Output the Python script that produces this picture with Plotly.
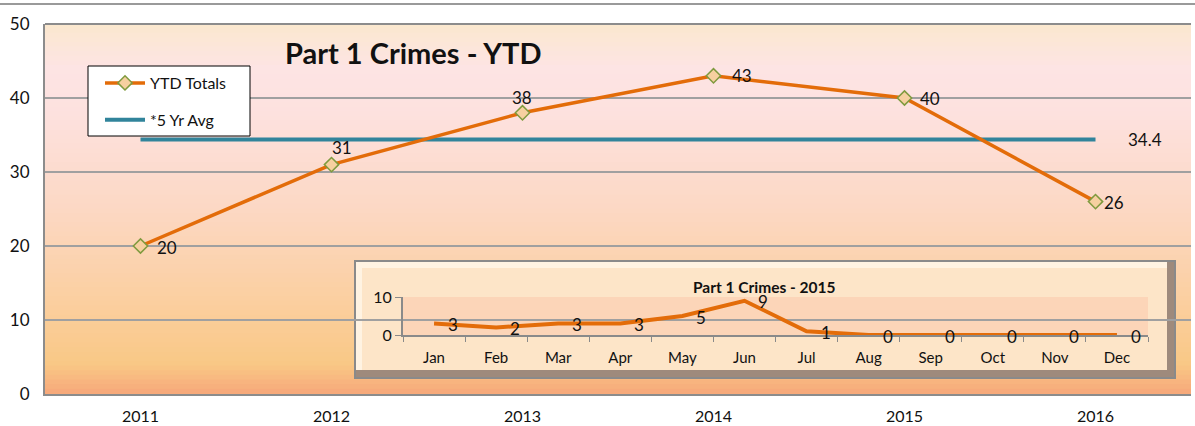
import plotly.graph_objects as go

years = ["2011", "2012", "2013", "2014", "2015", "2016"]
ytd_totals = [20, 31, 38, 43, 40, 26]
five_yr_avg = [34.4, 34.4, 34.4, 34.4, 34.4, 34.4]
avg_label = "34.4"

months = ["Jan", "Feb", "Mar", "Apr", "May", "Jun", "Jul", "Aug", "Sep", "Oct", "Nov", "Dec"]
crimes_2015 = [3, 2, 3, 3, 5, 9, 1, 0, 0, 0, 0, 0]

# label placement (style): pixel offsets of data labels from their points
main_label_dx = [26, 10, -1, 28, 25, 18]
main_label_dy = [-1, 17, 15, 0, 0, -1]

W, H = 1195, 426
L, R, T, B = 45, 1191, 24, 394
FONT = "Lato"
ORANGE = "#E36C09"
TEAL = "#31849B"


def X(px):
    return (px - L) / (R - L)


def Y(py):
    return (B - py) / (B - T)


fig = go.Figure()

stops = [(0.0, (251, 232, 206)), (0.12, (253, 228, 228)), (0.25, (253, 225, 222)),
         (0.5, (252, 216, 196)), (0.75, (251, 207, 160)), (0.92, (249, 200, 134)),
         (1.0, (247, 168, 122))]


def col_at(t):
    for i in range(len(stops) - 1):
        t0, c0 = stops[i]
        t1, c1 = stops[i + 1]
        if t0 <= t <= t1:
            f = (t - t0) / (t1 - t0) if t1 > t0 else 0
            return "rgb(%d,%d,%d)" % tuple(round(a + (b - a) * f) for a, b in zip(c0, c1))
    return "rgb(%d,%d,%d)" % stops[-1][1]


shapes = []
N = 80
for i in range(N):
    t = (i + 0.5) / N
    shapes.append(dict(type="rect", xref="paper", yref="paper", x0=0, x1=1,
                       y0=1 - (i + 1) / N, y1=1 - i / N + 0.002, line=dict(width=0),
                       fillcolor=col_at(t), layer="below"))

shapes.append(dict(type="line", xref="paper", yref="paper", x0=X(0), x1=X(W), y0=Y(4), y1=Y(4),
                   line=dict(color="#9a9a9a", width=2)))
shapes.append(dict(type="line", xref="paper", yref="paper", x0=0, x1=1, y0=1, y1=1,
                   line=dict(color="#8c8c8c", width=2)))

LAY = "between"
bx0, bx1, by0, by1 = 355, 1175, 261, 378
shapes.append(dict(type="rect", xref="paper", yref="paper", x0=X(bx0), x1=X(bx1), y0=Y(by1), y1=Y(by0),
                   fillcolor="#9e8a7c", line=dict(color="#8a8a8a", width=2), layer=LAY))
shapes.append(dict(type="rect", xref="paper", yref="paper", x0=X(bx0 + 1), x1=X(bx1 - 8), y0=Y(by1 - 8), y1=Y(by0 + 1),
                   fillcolor="#fff3e2", line=dict(width=0), layer=LAY))
shapes.append(dict(type="rect", xref="paper", yref="paper", x0=X(bx0 + 7), x1=X(bx1 - 8), y0=Y(by1 - 8), y1=Y(by0 + 7),
                   fillcolor="#fde5c8", line=dict(width=0), layer=LAY))
ix0, ix1, iy_top, iy_bot = 403, 1148, 297, 335
shapes.append(dict(type="rect", xref="paper", yref="paper", x0=X(ix0), x1=X(ix1), y0=Y(iy_bot), y1=Y(iy_top),
                   fillcolor="#fcd5b8", line=dict(width=0), layer=LAY))

# legend box
shapes.append(dict(type="rect", xref="paper", yref="paper", x0=X(88), x1=X(250), y0=Y(136), y1=Y(66),
                   fillcolor="white", line=dict(color="black", width=1), layer="above"))

fig.add_trace(go.Scatter(x=years, y=five_yr_avg, mode="lines", name="*5 Yr Avg", legendrank=2,
                         legendgroup="avg",
                         line=dict(color=TEAL, width=4), xaxis="x", yaxis="y"))
fig.add_trace(go.Scatter(x=years, y=ytd_totals, mode="lines+markers", name="YTD Totals",
                         legendrank=1, legendgroup="ytd",
                         line=dict(color=ORANGE, width=3.5),
                         marker=dict(symbol="diamond", size=11, color="#f6d0a0",
                                     line=dict(color="#7f9a3e", width=1.5)),
                         cliponaxis=False, xaxis="x", yaxis="y"))

fig.add_trace(go.Scatter(x=months, y=crimes_2015, mode="lines", showlegend=False,
                         line=dict(color=ORANGE, width=4), cliponaxis=False,
                         xaxis="x2", yaxis="y2"))

annotations = [
    dict(text="<b>Part 1 Crimes - YTD</b>", xref="paper", yref="paper", x=X(413), y=Y(52),
         showarrow=False, font=dict(family=FONT, size=29, color="#111"), xanchor="center", yanchor="middle"),
    dict(text=avg_label, xref="x", yref="y", x=len(years) - 1, y=five_yr_avg[-1], xanchor="left",
         xshift=30, showarrow=False, font=dict(family=FONT, size=17, color="#111")),
    dict(text="<b>Part 1 Crimes - 2015</b>", xref="paper", yref="paper", x=X(764), y=Y(287),
         showarrow=False, font=dict(family=FONT, size=15.5, color="#111"), xanchor="center", yanchor="middle"),
]
for i, v in enumerate(ytd_totals):
    annotations.append(dict(text=str(v), xref="x", yref="y", x=i, y=v, showarrow=False,
                            xanchor="center", yanchor="middle", xshift=main_label_dx[i],
                            yshift=main_label_dy[i], font=dict(family=FONT, size=17, color="#111")))
for i, v in enumerate(crimes_2015):
    annotations.append(dict(text=str(v), xref="x2", yref="y2", x=i, y=v, showarrow=False,
                            xanchor="center", yanchor="middle", xshift=19, yshift=-1,
                            font=dict(family=FONT, size=17, color="#111")))

fig.update_layout(
    width=W, height=H,
    margin=dict(l=L, r=W - R, t=T, b=H - B),
    paper_bgcolor="white", plot_bgcolor="rgba(0,0,0,0)",
    font=dict(family=FONT, size=15, color="#111"),
    shapes=shapes, annotations=annotations,
    showlegend=True,
    legend=dict(x=X(100), y=Y(66), xanchor="left", yanchor="top", bgcolor="rgba(0,0,0,0)",
                borderwidth=0, font=dict(family=FONT, size=16, color="#111"),
                itemwidth=40, tracegroupgap=13, traceorder="grouped"),
    xaxis=dict(type="category", domain=[0, 1], showgrid=False, showline=True, linecolor="#8c8c8c",
               linewidth=2, ticks="outside", ticklen=7, tickcolor="rgba(0,0,0,0)",
               tickfont=dict(family=FONT, size=16), range=[-0.5, 5.5], automargin=False),
    yaxis=dict(range=[0, 50], dtick=10, showgrid=True, gridcolor="#a0a0a0", gridwidth=1.5,
               showline=True, linecolor="#8c8c8c", linewidth=2, ticks="", zeroline=False,
               tickfont=dict(family=FONT, size=17), ticklabelstandoff=10, automargin=False),
    xaxis2=dict(type="category", domain=[X(ix0), X(ix1)], anchor="y2", showgrid=False, showline=True,
                linecolor="#8a8a8a", linewidth=2, ticks="outside", tickson="boundaries",
                ticklen=5, tickcolor="#8a8a8a", tickfont=dict(family=FONT, size=15),
                range=[-0.5, 11.5], ticklabelstandoff=8, automargin=False),
    yaxis2=dict(domain=[Y(iy_bot), Y(iy_top)], anchor="x2", range=[0, 10], dtick=10,
                showgrid=True, gridcolor="#8a8a8a", gridwidth=2, showline=True,
                linecolor="#8a8a8a", linewidth=2, ticks="outside", ticklen=6,
                tickcolor="#8a8a8a", zeroline=False, tickfont=dict(family=FONT, size=16),
                automargin=False),
)

fig.write_html("out.html", config={"displayModeBar": False},
               post_script="document.body.style.margin='0';document.body.style.overflow='hidden';")
